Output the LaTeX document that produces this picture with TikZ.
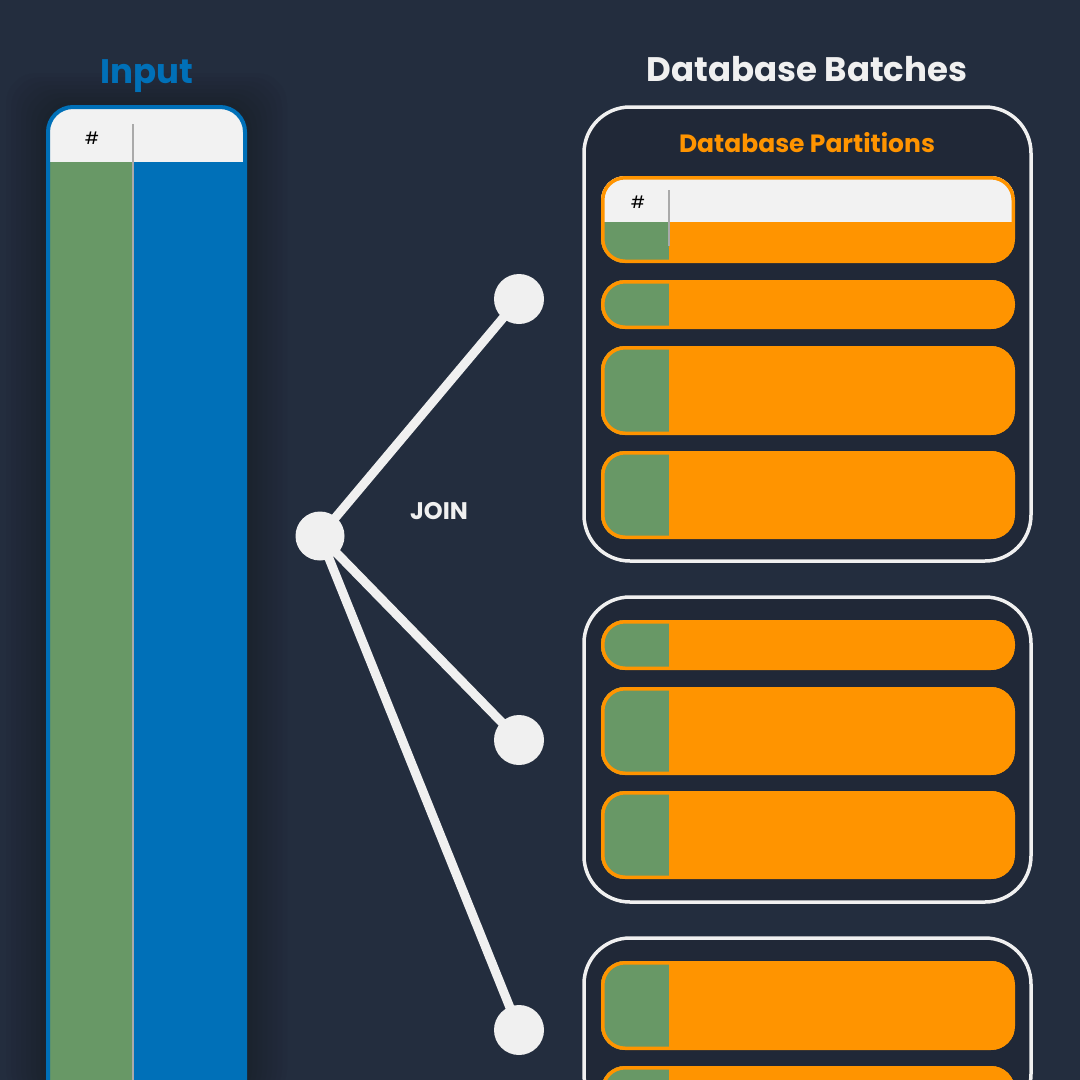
\documentclass[tikz,border=0pt]{standalone}
\usepackage{fontspec}
\setmainfont{Poppins}
\definecolor{bgnavy}{RGB}{35,45,62}
\definecolor{boxnavy}{RGB}{32,40,55}
\definecolor{inblue}{RGB}{0,112,184}
\definecolor{keygreen}{RGB}{104,152,102}
\definecolor{partorange}{RGB}{255,148,0}
\definecolor{headgray}{RGB}{242,242,242}
\definecolor{linegray}{RGB}{170,170,170}
\definecolor{lightline}{RGB}{240,240,240}
\newcommand{\partrow}[2]{%
    \begin{scope}
        \clip[rounded corners=24pt] (601,#1) rectangle (1015,#2);
        \fill[partorange] (601,#1) rectangle (1015,#2);
        \fill[keygreen] (601,#1) rectangle (669,#2);
        \draw[partorange,line width=7pt,rounded corners=24pt] (601,#1) rectangle (1015,#2);
    \end{scope}}

\begin{document}
\begin{tikzpicture}[x=1pt,y=-1pt,
        title/.style={font=\bfseries\fontsize{34}{40}\selectfont,anchor=base},
        subtitle/.style={font=\bfseries\fontsize{25}{29}\selectfont,anchor=base,text=partorange},
        hashlbl/.style={font=\fontsize{17}{20}\selectfont,anchor=base,text=black},
        dot/.style={circle,fill=lightline,minimum size=50pt,inner sep=0pt},
        link/.style={draw=lightline,line width=9pt,shorten <=-6pt,shorten >=-6pt},
        batch/.style={draw=lightline,line width=3.5pt,fill=boxnavy,rounded corners=46pt}
    ]
    \fill[bgnavy] (0,0) rectangle (1080,1080);
    \useasboundingbox (0,0) rectangle (1080,1080);
    \foreach \s in {1,...,8}
        \fill[black,opacity=0.025,rounded corners=30pt] (46-5*\s,105-4*\s) rectangle (247+5*\s,1100);

    \node[title,text=inblue] (intitle) at (147,83) {Input};
    \begin{scope}
        \clip[rounded corners=25pt] (48,107) rectangle (245,1120);
        \fill[headgray] (48,107) rectangle (245,162);
        \fill[keygreen] (48,162) rectangle (133,1120);
        \fill[inblue] (133,162) rectangle (245,1120);
    \end{scope}
    \draw[inblue,line width=4pt,rounded corners=25pt] (48,107) rectangle (245,1120);
    \draw[linegray,line width=2pt] (133,124) -- (133,1080);
    \node[hashlbl] (inhash) at (92,144) {\#};

    \node[title,text=lightline] (dbtitle) at (807,81) {Database Batches};
    \draw[batch] (584,107) rectangle (1031,561);
    \draw[batch] (584,597) rectangle (1031,902);
    \draw[batch] (584,938) rectangle (1031,1120);
    \node[subtitle] (parttitle) at (807,152) {Database Partitions};

    \begin{scope}
        \clip[rounded corners=24pt] (601,176) rectangle (1015,263);
        \fill[partorange] (601,176) rectangle (1015,263);
        \fill[headgray] (601,176) rectangle (1015,222);
        \fill[keygreen] (601,222) rectangle (669,263);
        \draw[partorange,line width=7pt,rounded corners=24pt] (601,176) rectangle (1015,263);
    \end{scope}
    \draw[linegray,line width=2pt] (669,190) -- (669,246);
    \node[hashlbl] (parthash) at (638,208) {\#};
    \foreach \top/\bot in {280/329,346/435,451/539,620/670,687/775,791/879,961/1050,1066/1150}
        \partrow{\top}{\bot};

    \node[dot,minimum size=49pt] (join) at (320,536) {};
    \node[dot] (b1) at (519,299) {};
    \node[dot] (b2) at (519,740) {};
    \node[dot] (b3) at (519,1030) {};
    \draw[link] (join) -- (b1);
    \draw[link] (join) -- (b2);
    \draw[link] (join) -- (b3);
    \node[font=\bfseries\fontsize{24}{28}\selectfont,text=lightline,anchor=base] (joinlbl) at (439,519) {JOIN};
\end{tikzpicture}
\end{document}
